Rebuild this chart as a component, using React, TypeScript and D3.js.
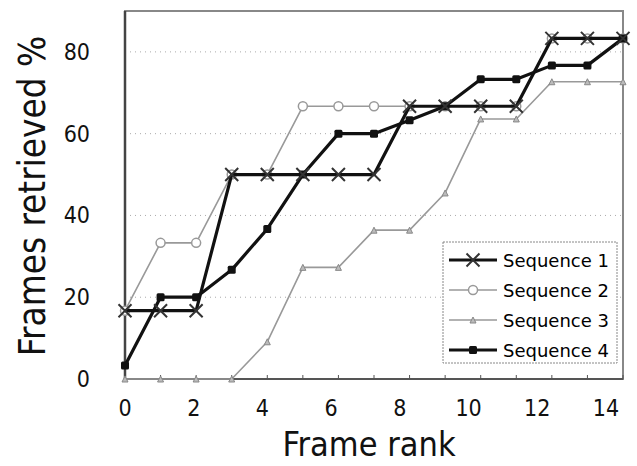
import * as d3 from 'd3';
import { useEffect, useRef } from 'react';

// Frame rank (x) vs. frames retrieved % (y), four sequences
const RANKS = [0, 1, 2, 3, 4, 5, 6, 7, 8, 9, 10, 11, 12, 13, 14];
const SEQ1 = [16.7, 16.7, 16.7, 50, 50, 50, 50, 50, 66.7, 66.7, 66.7, 66.7, 83.3, 83.3, 83.3];
const SEQ2 = [16.7, 33.3, 33.3, 50, 50, 66.7, 66.7, 66.7, 66.7, 66.7, 66.7, 66.7, 83.3, 83.3, 83.3];
const SEQ3 = [0, 0, 0, 0, 9.1, 27.3, 27.3, 36.4, 36.4, 45.5, 63.6, 63.6, 72.7, 72.7, 72.7];
const SEQ4 = [3.3, 20, 20, 26.7, 36.7, 50, 60, 60, 63.3, 66.7, 73.3, 73.3, 76.7, 76.7, 83.3];
const SERIES_NAMES = ['Sequence 1', 'Sequence 2', 'Sequence 3', 'Sequence 4'];
const X_TICKS = [0, 2, 4, 6, 8, 10, 12, 14];
const Y_TICKS = [0, 20, 40, 60, 80];

const W = 637;
const H = 466;
const PLOT = { left: 125, right: 623, top: 11, bottom: 379 };
const FONT = '"DejaVu Sans Condensed", "DejaVu Sans", Verdana, sans-serif';
const LEGEND_FONT = '"DejaVu Sans", Verdana, sans-serif';

type Marker = 'x' | 'circle' | 'triangle' | 'square';
interface Style { color: string; width: number; marker: Marker; }

const STYLES: Style[] = [
  { color: '#111', width: 3.2, marker: 'x' },
  { color: '#999', width: 1.6, marker: 'circle' },
  { color: '#999', width: 1.6, marker: 'triangle' },
  { color: '#111', width: 3.2, marker: 'square' },
];

function drawMarker(g: d3.Selection<SVGGElement, unknown, null, undefined>, m: Marker, x: number, y: number, s: Style) {
  if (m === 'x') {
    const r = 6.5;
    g.append('path')
      .attr('d', `M${x - r},${y - r}L${x + r},${y + r}M${x - r},${y + r}L${x + r},${y - r}`)
      .attr('stroke', '#333').attr('stroke-width', 2).attr('fill', 'none');
  } else if (m === 'circle') {
    g.append('circle').attr('cx', x).attr('cy', y).attr('r', 4.5)
      .attr('fill', 'white').attr('stroke', '#999').attr('stroke-width', 1.5);
  } else if (m === 'triangle') {
    const r = 3;
    g.append('path')
      .attr('d', `M${x},${y - r}L${x + r},${y + r}L${x - r},${y + r}Z`)
      .attr('fill', '#bbb').attr('stroke', '#888').attr('stroke-width', 1);
  } else {
    g.append('rect').attr('x', x - 4).attr('y', y - 4).attr('width', 8).attr('height', 8)
      .attr('rx', 1.5).attr('fill', s.color);
  }
}

export default function App() {
  const svgRef = useRef<SVGSVGElement>(null);

  useEffect(() => {
    if (!svgRef.current) return;
    const svg = d3.select(svgRef.current);
    svg.selectAll('*').remove();

    const x = d3.scaleLinear().domain([0, 14]).range([PLOT.left, PLOT.right]);
    // the printed tick labels sit a little tighter than the tick marks
    const xLabel = d3.scaleLinear().domain([0, 14]).range([125, 606]);
    const y = d3.scaleLinear().domain([0, 90]).range([PLOT.bottom, PLOT.top]);

    // grid
    Y_TICKS.filter(t => t > 0).forEach(t => {
      svg.append('line')
        .attr('x1', PLOT.left).attr('x2', PLOT.right)
        .attr('y1', y(t)).attr('y2', y(t))
        .attr('stroke', '#aaa').attr('stroke-width', 1).attr('stroke-dasharray', '1,4');
    });

    // frame
    svg.append('rect')
      .attr('x', PLOT.left).attr('y', PLOT.top)
      .attr('width', PLOT.right - PLOT.left).attr('height', PLOT.bottom - PLOT.top)
      .attr('fill', 'none').attr('stroke', '#888').attr('stroke-width', 2);
    svg.append('line')
      .attr('x1', PLOT.left).attr('x2', PLOT.left).attr('y1', PLOT.top).attr('y2', PLOT.bottom)
      .attr('stroke', '#444').attr('stroke-width', 2.5);
    svg.append('line')
      .attr('x1', PLOT.left).attr('x2', PLOT.right).attr('y1', PLOT.bottom).attr('y2', PLOT.bottom)
      .attr('stroke', '#555').attr('stroke-width', 2);

    // x minor ticks (every rank)
    RANKS.forEach(r => {
      svg.append('line')
        .attr('x1', x(r)).attr('x2', x(r)).attr('y1', PLOT.bottom).attr('y2', PLOT.bottom - 4)
        .attr('stroke', '#555').attr('stroke-width', 1);
    });

    // tick labels
    X_TICKS.forEach(t => {
      svg.append('text')
        .attr('x', xLabel(t)).attr('y', 416)
        .attr('text-anchor', 'middle')
        .attr('font-family', FONT).attr('font-size', 23).attr('fill', '#111')
        .text(t);
    });
    Y_TICKS.forEach(t => {
      svg.append('text')
        .attr('x', 90).attr('y', y(t) + 8)
        .attr('text-anchor', 'end')
        .attr('font-family', FONT).attr('font-size', 23).attr('fill', '#111')
        .text(t);
    });

    // axis titles
    svg.append('text')
      .attr('x', 369).attr('y', 456)
      .attr('text-anchor', 'middle')
      .attr('font-family', FONT).attr('font-size', 34).attr('fill', '#111')
      .text('Frame rank');
    svg.append('text')
      .attr('transform', `translate(45,196) rotate(-90)`)
      .attr('text-anchor', 'middle')
      .attr('font-family', FONT).attr('font-size', 36.5).attr('fill', '#111')
      .text('Frames retrieved %');

    // series: draw 3, 2, 4, 1 so the heavier lines sit on top, matching the scan
    const all = [SEQ1, SEQ2, SEQ3, SEQ4];
    const order = [2, 1, 3, 0];
    const line = d3.line<number>().x((_, i) => x(RANKS[i])).y(d => y(d));
    order.forEach(k => {
      const s = STYLES[k];
      const g = svg.append('g');
      g.append('path')
        .attr('d', line(all[k]))
        .attr('fill', 'none').attr('stroke', s.color).attr('stroke-width', s.width)
        .attr('stroke-linejoin', 'round');
      all[k].forEach((v, i) => drawMarker(g, s.marker, x(RANKS[i]), y(v), s));
    });

    // legend
    const lg = svg.append('g');
    lg.append('rect')
      .attr('x', 443).attr('y', 242).attr('width', 174).attr('height', 121)
      .attr('fill', 'white').attr('stroke', '#888').attr('stroke-width', 1).attr('stroke-dasharray', '2,1');
    SERIES_NAMES.forEach((name, i) => {
      const s = STYLES[i];
      const yy = 260 + i * 30;
      const g = lg.append('g');
      g.append('line')
        .attr('x1', 449).attr('x2', 497).attr('y1', yy).attr('y2', yy)
        .attr('stroke', s.color).attr('stroke-width', s.width);
      drawMarker(g, s.marker, 473, yy, s);
      g.append('text')
        .attr('x', 503).attr('y', yy + 7)
        .attr('font-family', LEGEND_FONT).attr('font-size', 18).attr('fill', '#000')
        .text(name);
    });
  }, []);

  return (
    <svg ref={svgRef} width={W} height={H}
      style={{ position: 'absolute', left: 0, top: 0, background: 'white' }} />
  );
}
